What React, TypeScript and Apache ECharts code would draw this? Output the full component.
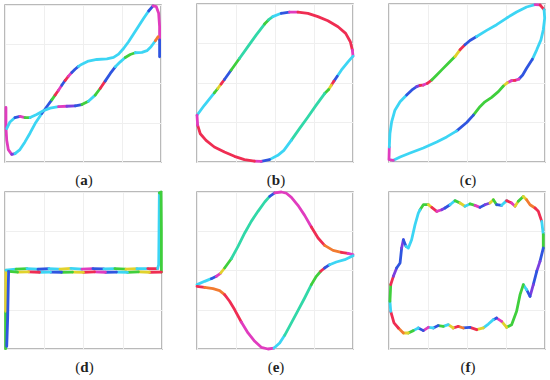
import React, { useEffect, useRef } from "react";
import * as echarts from "echarts";

// ---------- data (normalized 0..100 in each panel) ----------
const panelLabels = ["a", "b", "c", "d", "e", "f"];

const aCurve1 = [
  [0.6, 34.7], [0.6, 22.3], [1.1, 13.8], [2.1, 7.9], [4.3, 4.9], [6.4, 5.3], [9.6, 7.9], [12.8, 12.8],
  [16.1, 18.5], [19.3, 24.5], [23.6, 30.9], [27.8, 36.6], [30.0, 39.6], [32.1, 42.6], [34.3, 45.7],
  [36.4, 48.9], [38.5, 51.9], [40.7, 54.7], [42.8, 57.0], [44.9, 59.1], [47.1, 60.9], [49.3, 62.3],
  [53.5, 64.3], [58.9, 65.3], [65.3, 65.7], [69.6, 66.6], [72.8, 68.7], [76.0, 72.3], [79.2, 76.6],
  [82.4, 81.5], [85.7, 86.6], [88.9, 91.5], [92.1, 96.2], [94.9, 99.4], [97.0, 98.9], [98.5, 94.7],
  [99.1, 86.2], [99.1, 77.7], [99.1, 67.0],
];
const aCurve1Colors = "MMMMPCCCCCBBGRMBRMBBCCCCCCCCCCCCBMMMMB";

const aCurve2 = [
  [1.1, 21.3], [3.2, 25.5], [6.4, 28.3], [9.6, 29.1], [12.8, 28.3], [16.1, 28.3], [20.3, 30.2],
  [24.6, 32.6], [28.9, 34.3], [34.3, 35.3], [39.6, 35.5], [45.0, 35.7], [49.3, 36.6], [53.5, 38.7],
  [57.8, 42.6], [61.0, 46.8], [64.2, 51.5], [67.5, 56.4], [70.7, 60.6], [73.9, 63.8], [77.1, 66.6],
  [80.3, 68.5], [83.5, 69.6], [87.8, 69.8], [91.0, 70.9], [93.6, 73.4], [96.4, 77.2], [98.1, 79.8],
];
const aCurve2Colors = "CCBMGCCCCMPBGCGRBBCCGGCCCCO";

const bLoop = [
  [0, 29.6], [4.7, 35.9], [11.1, 43.8], [13.3, 46.5], [15.4, 49.3], [17.6, 52.2], [21.8, 58.1],
  [27.2, 65.5], [32.5, 72.9], [37.9, 80.3], [43.3, 87.3], [45.8, 89.9], [48.6, 92.0], [54.0, 94.1],
  [59.3, 94.9], [64.7, 94.9], [71.1, 94.1], [77.5, 92.0], [83.9, 89.4], [90.4, 85.6], [95.3, 81.4],
  [98.3, 76.1], [99.6, 70.8], [100, 67.0], [96.8, 63.4], [92.5, 58.1], [89.9, 54.3], [87.8, 51.2],
  [86.1, 48.6], [84.4, 45.9], [81.8, 43.3], [76.4, 36.0], [71.1, 28.5], [65.7, 21.1], [60.4, 13.7],
  [55.7, 7.4], [51.8, 4.2], [46.5, 1.5], [41.1, 0.4], [36.8, 0.6], [30.4, 1.5], [24.0, 3.6],
  [17.6, 6.3], [11.1, 9.5], [5.8, 13.7], [2.1, 17.9], [0.4, 23.3], [0, 29.6],
];
const bLoopColors = "CCGYRBGTTTGTCBMRRRRRRRMCCCBRYGTTTTCCCBMRRRRRRRM";

const cLoop = [
  [0, 2.1], [0.2, 9.5], [0.6, 18.0], [1.7, 25.4], [3.8, 32.8], [7.1, 38.1], [11.3, 42.4], [15.2, 46.0],
  [17.7, 47.7], [19.9, 48.5], [22.0, 48.7], [24.6, 49.8], [27.4, 51.9], [30.6, 55.1], [33.8, 58.3],
  [38.0, 62.5], [42.3, 66.7], [45.5, 71.0], [48.7, 74.2], [51.9, 76.9], [56.2, 79.4], [62.6, 83.3],
  [69.0, 86.9], [75.4, 91.1], [81.8, 94.9], [88.2, 98.1], [93.6, 99.6], [96.8, 99.4], [99.4, 96.4],
  [99.8, 91.1], [98.9, 83.7], [97.4, 77.3], [94.7, 71.0], [91.9, 65.0], [88.2, 59.3], [85.7, 55.1],
  [83.3, 52.5], [80.8, 51.7], [78.6, 51.5], [75.9, 50.2], [73.3, 48.1], [70.1, 44.5], [65.8, 40.9],
  [61.5, 38.1], [58.3, 35.0], [54.1, 29.7], [49.8, 25.0], [43.4, 19.7], [37.0, 15.9], [30.6, 12.7],
  [22.0, 8.9], [13.5, 5.7], [7.1, 3.2], [2.8, 1.1], [0, 1.5],
];
const cLoopColors = "MCCCCCBBPRMRGGGGYRBBCCCCCCMRCCCCCBBBMRMYGGGGGBBCCCCCCM";

const dLoop = [
  [0.4, 0.2], [0.4, 24.0], [0.6, 50.3],
  [7, 50.9], [14, 51.2], [21, 50.8], [28, 51.1], [35, 50.9], [42, 51.3], [49, 50.9], [56, 51.2],
  [63, 51.0], [70, 51.2], [77, 50.9], [84, 51.1], [91, 51.2], [97.2, 51.2],
  [97.9, 53.7], [98.1, 74.9], [98.3, 99.4], [99.4, 100], [99.6, 74.9], [99.6, 49.0],
  [92, 48.9], [85, 49.1], [78, 48.8], [71, 49.0], [64, 48.9], [57, 49.1], [50, 48.8], [43, 49.0],
  [36, 48.9], [29, 49.0], [22, 48.9], [15, 49.1], [8, 49.0], [2.3, 49.5],
  [2.1, 41.0], [1.7, 19.7], [1.1, 1.7],
];
const dLoopColors = "GYCGCBCYCMBCGYCRCCCGGGRYGCBMRYGBCRYGBBB";

const eCurve1 = [
  [0, 41.0], [4.9, 43.1], [9.2, 44.8], [12.4, 46.3], [15.2, 48.4], [17.7, 51.6], [22.0, 57.5],
  [26.3, 65.4], [30.6, 73.9], [34.8, 81.3], [39.1, 87.7], [43.4, 93.6], [46.6, 97.2], [49.8, 99.4],
  [54.1, 100], [57.3, 99.2], [60.5, 96.6], [64.7, 91.5], [69.0, 85.1], [73.3, 77.7], [77.6, 70.7],
  [81.8, 66.0], [87.2, 62.8], [92.5, 61.6], [96.8, 60.9], [100, 60.1],
];
const eCurve1Colors = "CCBMYGTTTTTTBMMMMMMRROORM";

const eCurve2 = [
  [0, 39.9], [4.9, 39.3], [10.3, 38.4], [14.5, 37.2], [17.7, 34.6], [20.9, 30.4], [24.1, 25.1],
  [28.4, 17.2], [32.7, 10.2], [37.0, 4.9], [41.2, 1.1], [45.5, 0], [49.4, 0.6], [53.0, 3.8],
  [56.2, 8.7], [60.5, 16.6], [64.7, 24.4], [69.0, 32.5], [73.3, 41.0], [76.5, 46.3], [79.3, 49.5],
  [81.8, 51.6], [85.0, 53.7], [89.3, 55.4], [94.7, 56.9], [100, 59.4],
];
const eCurve2Colors = "ROOORRRMMMMMCCTTTTGGRBCCC";

const fLoop = [
  [19.9, 88.7], [22.0, 91.9], [25.2, 91.9], [27.4, 90.2], [30.6, 87.7], [33.8, 88.7], [35.9, 89.8],
  [39.1, 91.9], [42.3, 94.5], [45.5, 93.0], [48.7, 90.9], [51.9, 92.4], [55.1, 91.5], [58.3, 90.2],
  [61.5, 91.9], [64.7, 93.0], [66.9, 95.1], [69.0, 91.9], [72.2, 91.5], [75.4, 94.5], [78.6, 93.0],
  [80.8, 90.9], [82.9, 94.1], [86.1, 97.2], [88.2, 95.1], [90.4, 91.9], [93.6, 89.8], [95.7, 87.7],
  [97.9, 81.3], [98.9, 72.8], [98.9, 64.3], [96.8, 55.8], [94.7, 49.5], [92.5, 41.0], [90.4, 33.5],
  [88.2, 37.8], [86.1, 41.0], [84.0, 34.6], [81.8, 24.0], [78.6, 15.5], [75.4, 13.8], [72.2, 17.6],
  [69.0, 19.7], [66.9, 18.7], [63.7, 15.9], [60.5, 13.4], [56.2, 12.3], [51.9, 13.8], [47.6, 13.4],
  [44.4, 14.4], [41.2, 13.4], [38.0, 15.5], [34.8, 14.4], [31.6, 14.9], [28.4, 13.4], [25.2, 13.8],
  [22.0, 11.7], [18.8, 13.4], [15.6, 11.7], [12.4, 10.2], [9.2, 10.2], [6.0, 13.4], [3.2, 16.6],
  [1.1, 24.0], [0.6, 30.4], [1.1, 41.0], [2.8, 46.3], [4.9, 51.6], [7.1, 54.8], [8.1, 64.3],
  [9.2, 69.6], [10.9, 65.4], [12.4, 64.3], [14.5, 69.6], [16.7, 79.2], [18.8, 86.6], [19.9, 88.7],
];
const fLoopColors = "GGYRMPBCGYCGMBPYGBCRMYGYOORRCGBPBPBCGGGGYMBCCYRBORYCGBCMBCGYORRCGRPBBPBCCCCC";

// ---------- styles ----------
const PALETTE: Record<string, string> = {
  C: "#3cd5f4",
  B: "#2f55e0",
  M: "#e03cbf",
  R: "#ef2d52",
  G: "#3fcf3c",
  Y: "#e2d22c",
  T: "#31d8a8",
  O: "#f27b30",
  P: "#7b3fe0",
};

const GRIDS = [
  { left: 5, top: 5, width: 156, height: 157 },
  { left: 197, top: 4, width: 156, height: 158 },
  { left: 389, top: 4, width: 156, height: 158 },
  { left: 5, top: 192, width: 157, height: 157 },
  { left: 197, top: 192, width: 156, height: 157 },
  { left: 389, top: 192, width: 156, height: 157 },
];

const curvesByPanel: [number[][], string][][] = [
  [[aCurve1, aCurve1Colors], [aCurve2, aCurve2Colors]],
  [[bLoop, bLoopColors]],
  [[cLoop, cLoopColors]],
  [[dLoop, dLoopColors]],
  [[eCurve1, eCurve1Colors], [eCurve2, eCurve2Colors]],
  [[fLoop, fLoopColors]],
];

function buildSeries(points: number[][], codes: string, gi: number) {
  const out: any[] = [];
  let start = 0;
  for (let i = 1; i <= codes.length; i++) {
    if (i === codes.length || codes[i] !== codes[start]) {
      out.push({
        type: "line",
        xAxisIndex: gi,
        yAxisIndex: gi,
        data: points.slice(start, i + 1),
        showSymbol: false,
        symbol: "none",
        clip: false,
        silent: true,
        emphasis: { disabled: true },
        lineStyle: { color: PALETTE[codes[start]], width: 2.8, cap: "round", join: "round" },
        z: 3,
      });
      start = i;
    }
  }
  return out;
}

export default function App() {
  const ref = useRef<HTMLDivElement>(null);
  useEffect(() => {
    if (!ref.current) return;
    const chart = echarts.init(ref.current, undefined, { renderer: "svg" });
    const axisCommon = {
      type: "value",
      min: 0,
      max: 100,
      interval: 25,
      axisLabel: { show: false },
      axisTick: { show: false },
      axisLine: { show: false },
      splitLine: { show: true, lineStyle: { color: "#efefef", width: 1 } },
    };
    const series: any[] = [];
    curvesByPanel.forEach((curves, gi) => {
      curves.forEach(([pts, codes]) => series.push(...buildSeries(pts, codes, gi)));
    });
    const graphics = GRIDS.map((g, i) => ({
      type: "text",
      x: g.left + g.width / 2 + 1,
      y: i < 3 ? 180 : 367,
      style: {
        text: `{n|(}{b|${panelLabels[i]}}{n|)}`,
        textAlign: "center",
        textVerticalAlign: "middle",
        rich: {
          n: { fontFamily: "Liberation Serif", fontSize: 15, fill: "#222" },
          b: { fontFamily: "Liberation Serif", fontSize: 15, fontWeight: "bold", fill: "#222" },
        },
      },
    }));
    chart.setOption({
      animation: false,
      backgroundColor: "#ffffff",
      grid: GRIDS.map((g) => ({
        ...g,
        show: true,
        borderColor: "#a3a3a3",
        borderWidth: 1.5,
        backgroundColor: "#ffffff",
      })),
      xAxis: GRIDS.map((_, i) => ({ ...axisCommon, gridIndex: i })),
      yAxis: GRIDS.map((_, i) => ({ ...axisCommon, gridIndex: i })),
      series,
      graphic: graphics,
    });
    return () => chart.dispose();
  }, []);
  return (
    <div
      ref={ref}
      style={{ position: "absolute", left: 0, top: 0, width: 550, height: 380, background: "#fff" }}
    />
  );
}
